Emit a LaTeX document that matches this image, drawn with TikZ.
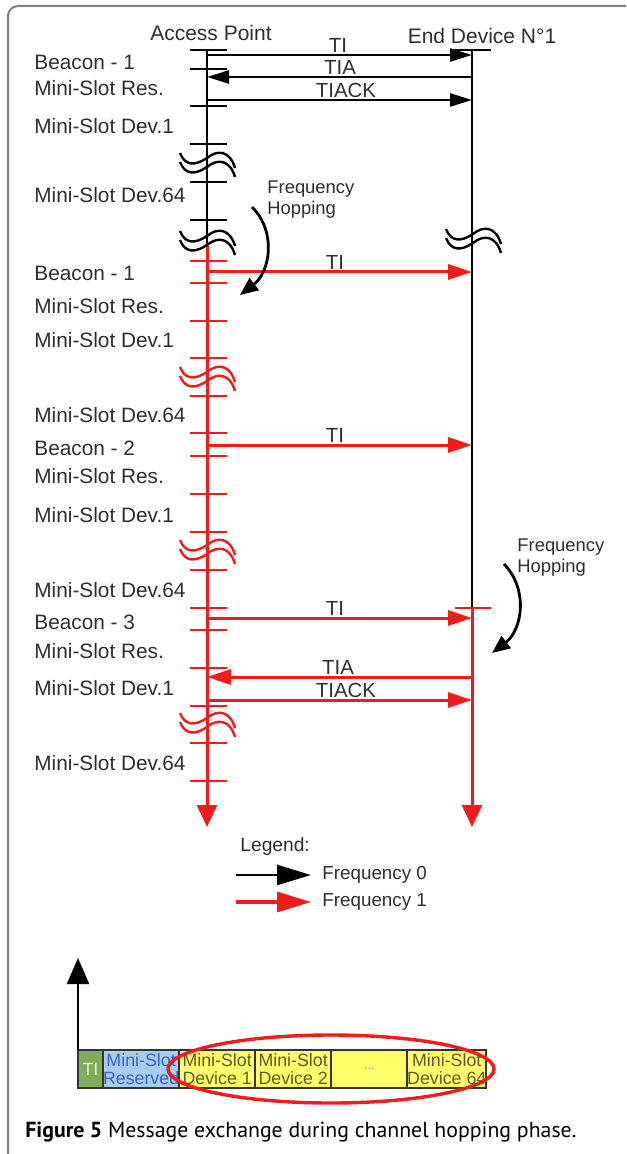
\documentclass[tikz,border=0pt]{standalone}
\usepackage{fontspec}
\setmainfont{Liberation Sans}
\newfontfamily\capfont{PT Sans}
\usepackage{tikz}
\usetikzlibrary{arrows.meta, positioning}
\definecolor{hopred}{HTML}{F01C1C}
\definecolor{framegray}{HTML}{808080}
\definecolor{labelgray}{HTML}{2E2E2E}
\definecolor{slotgreen}{HTML}{7EAE55}
\definecolor{slotblue}{HTML}{A8CDF5}
\definecolor{slotbluetext}{HTML}{3563C4}
\definecolor{slotyellow}{HTML}{FFFF6A}
\definecolor{slotolive}{HTML}{5C5C28}

\begin{document}
\begin{tikzpicture}[x=0.5pt, y=-0.5pt,
  titlelbl/.style={inner sep=0pt, text=labelgray, font=\fontsize{10.5}{12}\selectfont},
  slotlbl/.style={anchor=west, inner sep=0pt, text=labelgray, font=\fontsize{10.4}{12}\selectfont},
  msglbl/.style={anchor=south, inner sep=1pt, text=labelgray, font=\fontsize{10.2}{12}\selectfont},
  hoplbl/.style={anchor=west, inner sep=0pt, align=left, text=labelgray, font=\fontsize{9.2}{10.5}\selectfont},
  blackmsg/.style={line width=1.2pt, -{Triangle[length=11pt, width=6.5pt]}},
  redmsg/.style={hopred, line width=1.5pt, -{Triangle[length=12pt, width=7.5pt]}},
  slotmark/.style={line width=1.2pt},
  brk/.style={line width=1.2pt},
  hoparrow/.style={line width=1.4pt, -{Triangle[length=9pt, width=7.5pt]}},
  cell/.style={draw=black!80, line width=1pt, outer sep=0pt, inner sep=0pt,
    minimum width=38pt, minimum height=19pt, align=center,
    font=\fontsize{8.9}{9}\selectfont}]

  \fill[white] (0,0) rectangle (626,1154);
  \useasboundingbox (0,0) rectangle (626,1154);
  \draw[framegray, line width=1pt, rounded corners=5pt] (8,1154) -- (8,6) -- (626,6);

  % lifelines
  \node[titlelbl] (apname) at (211,33) {Access Point};
  \node[titlelbl] (edname) at (482,36) {End Device N°1};
  \coordinate (apTop) at (207,50);
  \coordinate (apHop) at (207,246);
  \coordinate (apEnd) at (207,827);
  \coordinate (edTop) at (472,50);
  \coordinate (edHop) at (472,608);
  \coordinate (edEnd) at (472,827);
  \draw[line width=1.2pt] (apTop) -- (apHop);
  \draw[hopred, line width=1.5pt, -{Triangle[length=11pt, width=10pt]}] (apHop) -- (apEnd);
  \draw[line width=1.2pt] (edTop) -- (edHop);
  \draw[hopred, line width=1.5pt, -{Triangle[length=11pt, width=10pt]}] (edHop) -- (edEnd);
  \draw[slotmark] (455,50) -- (491,50);
  \draw[slotmark, hopred] (455,608) -- (491,608);

  % slot boundaries
  \foreach \y in {50,69,106,144,182,220}
    \draw[slotmark] (190,\y) -- (227,\y);
  \foreach \y in {261,283,321,358,396,433,456,494,532,570,608,630,668,706,743,781}
    \draw[slotmark, hopred] (190,\y) -- (227,\y);

  % breaks
  \foreach \x/\y/\c in {207/160/black, 207/238/black, 473/236/black,
                        207/374/hopred, 207/547/hopred, 207/720/hopred}
    \foreach \d in {0,9}
      \draw[brk, \c, shift={(\x,\y+\d)}] (-27,-7) .. controls (-22,6) and (-12,6) .. (0,-2)
        .. controls (11,-11) and (23,-9) .. (28,8);

  % slot names
  \foreach \y/\t in {62/Beacon - 1, 88/Mini-Slot Res., 126/Mini-Slot Dev.1, 195/Mini-Slot Dev.64,
                     273/Beacon - 1, 306/Mini-Slot Res., 340/Mini-Slot Dev.1, 415/Mini-Slot Dev.64,
                     448/Beacon - 2, 476/Mini-Slot Res., 515/Mini-Slot Dev.1, 590/Mini-Slot Dev.64,
                     622/Beacon - 3, 651/Mini-Slot Res., 688/Mini-Slot Dev.1, 763/Mini-Slot Dev.64}
    \node[slotlbl] (slot\y) at (34,\y) {\t};

  % messages on frequency 0
  \coordinate (m1) at (338,55);
  \coordinate (m2) at (340,77);
  \coordinate (m3) at (346,100);
  \node[msglbl] (ti1) at (m1) {TI};
  \node[msglbl] (tia1) at (m2) {TIA};
  \node[msglbl] (tiack1) at (m3) {TIACK};
  \draw[blackmsg] (apTop |- m1) -- (edTop |- m1);
  \draw[blackmsg] (edTop |- m2) -- (apTop |- m2);
  \draw[blackmsg] (apTop |- m3) -- (edTop |- m3);

  % messages on frequency 1
  \coordinate (m4) at (335,272);
  \coordinate (m5) at (335,445);
  \coordinate (m6) at (335,618);
  \coordinate (m7) at (338,677);
  \coordinate (m8) at (346,700);
  \node[msglbl] (ti2) at (m4) {TI};
  \node[msglbl] (ti3) at (m5) {TI};
  \node[msglbl] (ti4) at (m6) {TI};
  \node[msglbl] (tia2) at (m7) {TIA};
  \node[msglbl] (tiack2) at (m8) {TIACK};
  \draw[redmsg] (apTop |- m4) -- (edTop |- m4);
  \draw[redmsg] (apTop |- m5) -- (edTop |- m5);
  \draw[redmsg] (apTop |- m6) -- (edTop |- m6);
  \draw[redmsg] (edTop |- m7) -- (apTop |- m7);
  \draw[redmsg] (apTop |- m8) -- (edTop |- m8);

  % frequency hopping
  \node[hoplbl] (hopA) at (267,199.5) {Frequency\\Hopping};
  \node[hoplbl] (hopB) at (517,557.5) {Frequency\\Hopping};
  \coordinate (hopAs) at (252,207);
  \coordinate (hopAe) at (240,295);
  \coordinate (hopBs) at (504,564);
  \coordinate (hopBe) at (492,653);
  \draw[hoparrow] (hopAs) .. controls (277,232) and (270,272) .. (hopAe);
  \draw[hoparrow] (hopBs) .. controls (529,590) and (522,630) .. (hopBe);

  % legend
  \node[hoplbl, font=\fontsize{9.6}{11}\selectfont] (legend) at (240,847) {Legend:};
  \coordinate (lg0a) at (236,875);
  \coordinate (lg0b) at (311,875);
  \coordinate (lg1a) at (236,902);
  \coordinate (lg1b) at (311,902);
  \draw[line width=1.2pt, -{Triangle[length=17pt, width=10pt]}] (lg0a) -- (lg0b);
  \draw[hopred, line width=1.6pt, -{Triangle[length=17pt, width=10pt]}] (lg1a) -- (lg1b);
  \node[hoplbl, font=\fontsize{9.4}{11}\selectfont] (f0) at (322,875) {Frequency 0};
  \node[hoplbl, font=\fontsize{9.4}{11}\selectfont] (f1) at (322,902) {Frequency 1};

  % superframe
  \node[cell, fill=slotgreen, minimum width=12.5pt, text=white!92!black, anchor=west] (cTI) at (78,1069) {TI};
  \node[cell, fill=slotblue, text=slotbluetext, right=0pt of cTI] (cRes) {Mini-Slot\\Reserved};
  \node[cell, fill=slotyellow, text=slotolive, right=0pt of cRes] (cDev1) {Mini-Slot\\Device 1};
  \node[cell, fill=slotyellow, text=slotolive, right=0pt of cDev1] (cDev2) {Mini-Slot\\Device 2};
  \node[cell, fill=slotyellow, text=black!45, font=\fontsize{6}{7}\selectfont, right=0pt of cDev2] (cDots) {...};
  \node[cell, fill=slotyellow, text=slotolive, right=0pt of cDots] (cDev64) {Mini-Slot\\Device 64};
  \coordinate (axTip) at (78,958);
  \draw[line width=1.2pt, -{Triangle[length=13pt, width=11pt]}] (cTI.north west) -- (axTip);
  \draw[hopred, line width=1.7pt] (331,1069) ellipse [x radius=163, y radius=34];

  \node[anchor=west, inner sep=0pt, font=\capfont\fontsize{10.9}{12}\selectfont] (caption) at (25,1132)
    {\textbf{Figure 5} Message exchange during channel hopping phase.};
\end{tikzpicture}
\end{document}
